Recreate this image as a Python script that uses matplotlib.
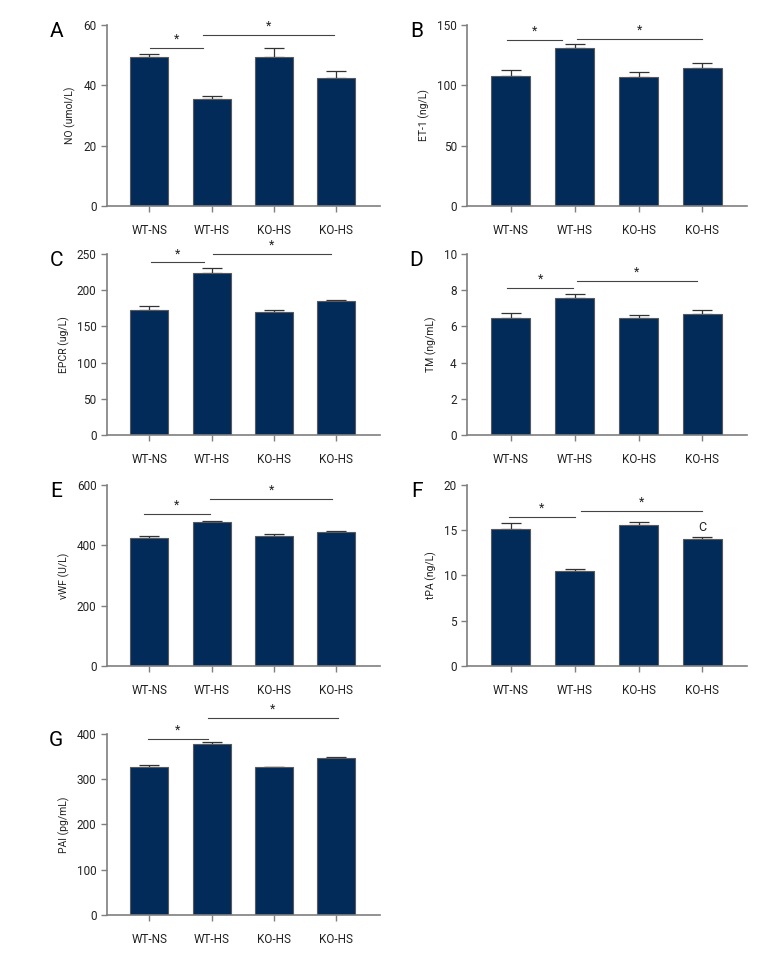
import numpy as np
import matplotlib
matplotlib.use("Agg")
import matplotlib.pyplot as plt

plt.rcParams['font.family'] = ['Roboto', 'DejaVu Sans']

groups = ['WT-NS', 'WT-HS', 'KO-HS', 'KO-HS']

no_vals = [49.5, 35.4, 49.5, 42.6]
no_err = [0.8, 1.1, 2.8, 2.2]
et1_vals = [107.7, 131.2, 106.8, 114.3]
et1_err = [4.7, 2.8, 4.2, 4.2]
epcr_vals = [173, 223.3, 170, 184.6]
epcr_err = [5.6, 6.7, 2.6, 1.9]
tm_vals = [6.49, 7.58, 6.44, 6.68]
tm_err = [0.25, 0.22, 0.17, 0.22]
vwf_vals = [423, 476, 429.5, 444]
vwf_err = [9, 3, 6.5, 4]
tpa_vals = [15.13, 10.44, 15.54, 14.02]
tpa_err = [0.63, 0.3, 0.36, 0.22]
pai_vals = [326, 377.9, 326, 346]
pai_err = [4.6, 3.6, 0.5, 3]

panels = [
    ('A', 'NO (umol/L)', no_vals, no_err, 60, [0, 20, 40, 60], (52.3, 56.7)),
    ('B', 'ET-1 (ng/L)', et1_vals, et1_err, 150, [0, 50, 100, 150], (138, 138.7)),
    ('C', 'EPCR (ug/L)', epcr_vals, epcr_err, 250, [0, 50, 100, 150, 200, 250], (238.5, 250.5)),
    ('D', 'TM (ng/mL)', tm_vals, tm_err, 10, [0, 2, 4, 6, 8, 10], (8.12, 8.52)),
    ('E', 'vWF (U/L)', vwf_vals, vwf_err, 600, [0, 200, 400, 600], (504, 555)),
    ('F', 'tPA (ng/L)', tpa_vals, tpa_err, 20, [0, 5, 10, 15, 20], (16.5, 17.16)),
    ('G', 'PAI (pg/mL)', pai_vals, pai_err, 400, [0, 100, 200, 300, 400], (389, 435)),
]

# significance bar spans (x from, x to)
sig_spans = {
    'A': [(0.02, 0.87), (0.86, 2.96)],
    'B': [(-0.05, 0.80), (1.04, 3.0)],
    'C': [(0.03, 0.88), (1.02, 2.92)],
    'D': [(-0.05, 0.97), (1.03, 2.92)],
    'E': [(-0.08, 0.97), (0.97, 2.94)],
    'F': [(-0.03, 1.0), (1.1, 3.0)],
    'G': [(-0.02, 0.94), (0.94, 3.03)],
}

bar_color = '#022b5a'
gray = '#7f7f7f'

fig = plt.figure(figsize=(7.8, 9.6), dpi=100)

bottoms = [0.7854, 0.5469, 0.3063, 0.0469]
h = 0.1885

for i, (letter, ylabel, vals, err, ymax, ticks, sig_y) in enumerate(panels):
    row, col = i // 2, i % 2
    if col == 0:
        ax = fig.add_axes([0.137, bottoms[row], 0.350, h])
    else:
        ax = fig.add_axes([0.599, bottoms[row], 0.359, h])
    x = np.arange(len(groups))
    ax.bar(x, vals, width=0.61, color=bar_color, edgecolor='#5a5a5a', linewidth=0.8, zorder=2)
    ax.errorbar(x, vals, yerr=[np.zeros(len(err)), err], fmt='none', ecolor='#333333',
                elinewidth=0.9, capsize=7, capthick=0.9, zorder=1)
    ax.set_xlim(-0.68, 3.7)
    ax.set_ylim(0, ymax)
    ax.set_yticks(ticks)
    ax.set_xticks(x)
    ax.set_xticklabels(groups)
    ax.set_ylabel(ylabel, fontsize=7.5, labelpad=5, color='#222222')
    for s in ['top', 'right']:
        ax.spines[s].set_visible(False)
    for s in ['left', 'bottom']:
        ax.spines[s].set_color(gray)
        ax.spines[s].set_linewidth(1.2)
    ax.tick_params(axis='both', colors=gray, labelcolor='#222222', labelsize=8.5, length=4, width=1)
    ax.tick_params(axis='x', pad=9)
    for (x0, x1), yv in zip(sig_spans[letter], sig_y):
        ax.plot([x0, x1], [yv, yv], color='#444444', lw=0.8, clip_on=False)
        ax.text((x0 + x1) / 2, yv + ymax * 0.012, '*', ha='center', va='bottom',
                fontsize=9, color='#222222', clip_on=False)
    if letter == 'F':
        ax.text(3, 14.6, 'C', ha='center', va='bottom', fontsize=9, color='#222222')
    pos = ax.get_position()
    fig.text(pos.x0 - 0.065, pos.y1 + 0.003, letter, fontsize=15, ha='center', va='top')

fig.savefig('out.png', dpi=100)
